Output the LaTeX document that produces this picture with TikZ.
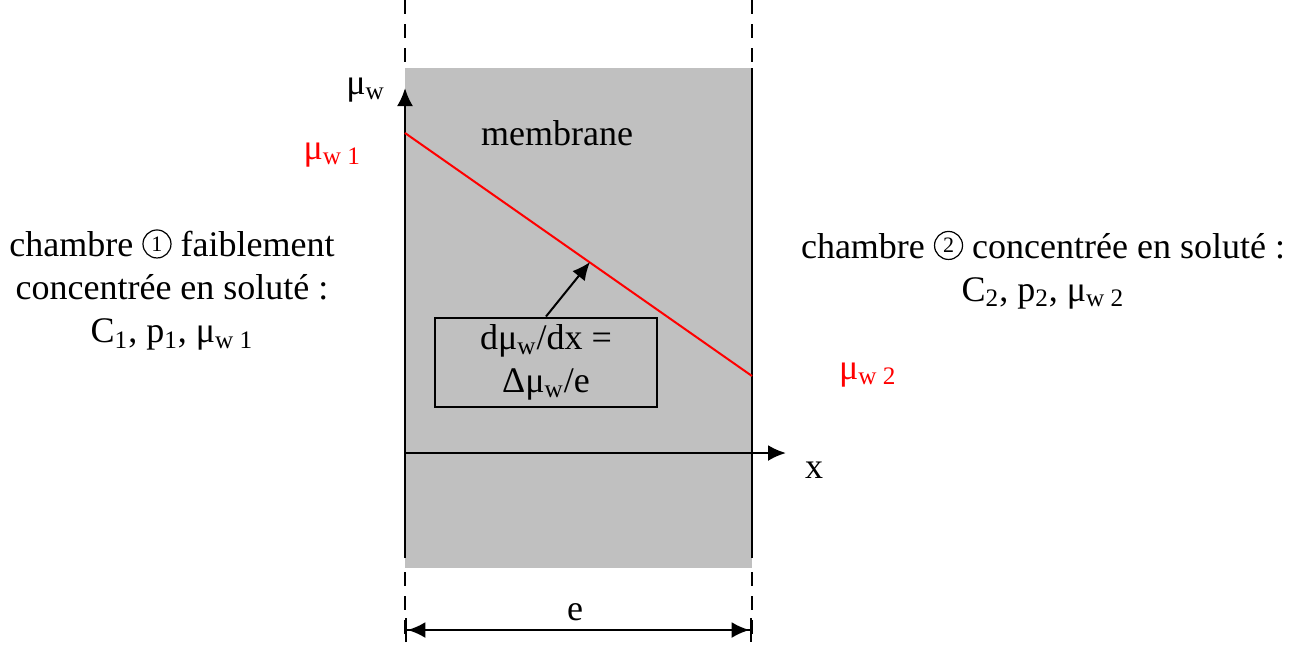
\documentclass[tikz,border=0pt]{standalone}
\usepackage{fontspec}
\setmainfont{Liberation Serif}
\usepackage{tikz}
\usetikzlibrary{arrows.meta}
\usepackage{xcolor}

\definecolor{gris}{RGB}{192,192,192}
\newcommand{\rond}[1]{\tikz[baseline={([yshift=-6.5pt]r.center)}]\node[draw,circle,line width=0.6pt,minimum size=14pt,inner sep=0pt,font=\fontsize{11}{11}\selectfont] (r) {#1};}

\begin{document}
\begin{tikzpicture}[x=0.5pt,y=-0.5pt,
			texte/.style={align=center, font=\fontsize{18}{21.5}\selectfont},
			rouge/.style={text=red, font=\fontsize{18}{21.5}\selectfont},
			formule/.style={draw, line width=1pt, rectangle, minimum width=111pt, minimum height=42pt, align=center, font=\fontsize{18}{21.5}\selectfont},
			axe/.style={-{Latex[length=9pt,width=8pt]}, line width=1.2pt},
			paroi/.style={line width=1.2pt},
			tirets/.style={line width=1.2pt, dash pattern=on 7pt off 5pt}
		]
		\useasboundingbox (0,0) rectangle (1307,645);
		\fill[gris] (405,68) rectangle (752,568);

		\coordinate (o) at (405,453);
		\coordinate (ybas) at (405,558);
		\coordinate (yhaut) at (405,88);
		\coordinate (xfin) at (786,453);
		\coordinate (dhaut) at (752,68);
		\coordinate (dbas) at (752,558);
		\coordinate (m1) at (405,133);
		\coordinate (m2) at (752,376);
		\coordinate (cible) at (590,262);

		\draw[tirets] (405,0) -- (405,68);
		\draw[tirets] (752,0) -- (752,68);
		\draw[tirets] (405,572) -- (405,642);
		\draw[tirets] (752,572) -- (752,642);

		\draw[axe] (ybas) -- (yhaut);
		\draw[paroi] (dhaut) -- (dbas);
		\draw[axe] (o) -- (xfin);
		\draw[red, line width=1pt] (m1) -- (m2);

		\node[texte, anchor=east] (muw) at (392,90) {μ\textsubscript{w}};
		\node[rouge, anchor=east] (muw1) at (368,155) {μ\textsubscript{w 1}};
		\node[rouge, anchor=west] (muw2) at (832,375) {μ\textsubscript{w 2}};
		\node[texte, anchor=west] (xlab) at (798,470) {x};
		\node[texte] (membrane) at (557,133) {membrane};

		\node[formule] (pente) at (546,362) {dμ\textsubscript{w}/dx =\\Δμ\textsubscript{w}/e};
		\draw[-{Latex[length=9pt,width=8pt]}, line width=1pt] (pente.north) -- (cible);

		\node[texte] (ch1) at (172,290) {chambre \rond{1} faiblement\\concentrée en soluté :\\C\textsubscript{1}, p\textsubscript{1}, μ\textsubscript{w 1}};
		\node[texte] (ch2) at (1043,270) {chambre \rond{2} concentrée en soluté :\\C\textsubscript{2}, p\textsubscript{2}, μ\textsubscript{w 2}};

		\coordinate (ea) at (405,630);
		\coordinate (eb) at (752,630);
		\draw[{Bar[width=12pt]Latex[length=9pt,width=8pt]}-{Latex[length=9pt,width=8pt]Bar[width=12pt]}, line width=1.2pt] (ea) -- (eb);
		\node[texte] (elab) at (575,612) {e};
	\end{tikzpicture}
\end{document}
